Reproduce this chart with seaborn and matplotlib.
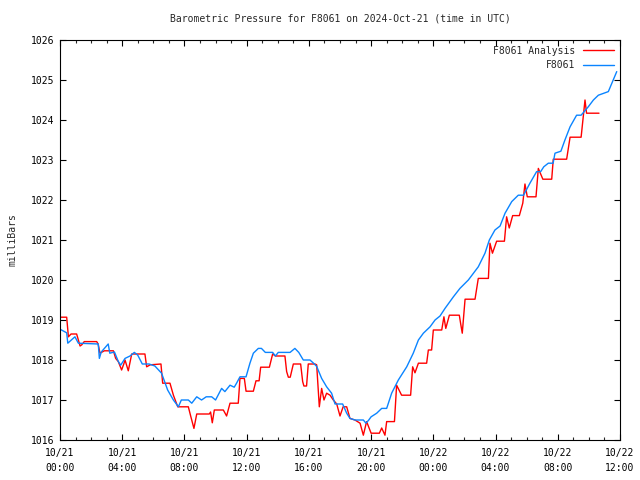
import numpy as np
import pandas as pd
import matplotlib
matplotlib.use("Agg")
import matplotlib.pyplot as plt
import matplotlib.dates as mdates
import seaborn as sns

# hours since 2024-10-21 00:00 UTC
obs_hours = [0, 0.43, 0.5, 0.96, 1.18, 2.46, 2.53, 2.65, 3.1, 3.2, 3.5, 3.75, 3.9, 4.18, 4.5,
             4.78, 5.0, 5.29, 5.72, 6.1, 6.53, 6.92, 7.29, 7.61, 7.8, 8.25, 8.47, 8.79, 9.1,
             9.4, 9.75, 10.0, 10.39, 10.6, 10.93, 11.2, 11.35, 11.57, 11.96, 12.21, 12.43,
             12.75, 12.95, 13.2, 13.67, 13.85, 14.03, 14.79, 15.1, 15.35, 15.64, 16.07, 16.3,
             16.5, 16.82, 17.14, 17.46, 17.68, 18.17, 18.43, 18.64, 18.96, 19.5, 19.67, 19.85,
             20.0, 20.36, 20.68, 21.0, 21.32, 21.75, 22.29, 22.71, 23.04, 23.36, 23.79, 24.11,
             24.43, 24.75, 25.29, 25.71, 26.25, 26.89, 27.32, 27.6, 27.96, 28.29, 28.61, 29.04,
             29.46, 29.8, 30.21, 30.64, 30.9, 31.1, 31.39, 31.7, 31.82, 32.2, 32.46, 32.79,
             33.21, 33.5, 33.96, 34.29, 34.61, 35.25, 35.79]
obs_mb = [1018.77, 1018.68, 1018.42, 1018.58, 1018.42, 1018.40, 1018.04, 1018.2, 1018.4, 1018.17,
          1018.2, 1017.96, 1017.87, 1018.04, 1018.1, 1018.19, 1018.12, 1017.9, 1017.9, 1017.85,
          1017.67, 1017.25, 1017.0, 1016.83, 1017.0, 1017.0, 1016.92, 1017.08, 1017.0, 1017.08,
          1017.08, 1017.0, 1017.29, 1017.21, 1017.37, 1017.32, 1017.42, 1017.58, 1017.58, 1017.92,
          1018.17, 1018.29, 1018.29, 1018.19, 1018.19, 1018.1, 1018.19, 1018.19, 1018.29, 1018.19,
          1018.0, 1018.0, 1017.92, 1017.84, 1017.54, 1017.33, 1017.17, 1016.9, 1016.9, 1016.67,
          1016.54, 1016.5, 1016.5, 1016.42, 1016.5, 1016.58, 1016.67, 1016.79, 1016.79, 1017.17,
          1017.5, 1017.83, 1018.17, 1018.5, 1018.67, 1018.83, 1019.0, 1019.1, 1019.29, 1019.58,
          1019.79, 1020.0, 1020.33, 1020.67, 1021.0, 1021.25, 1021.35, 1021.67, 1021.96, 1022.12,
          1022.12, 1022.42, 1022.71, 1022.71, 1022.83, 1022.92, 1022.92, 1023.17, 1023.22, 1023.5,
          1023.83, 1024.12, 1024.12, 1024.33, 1024.5, 1024.62, 1024.71, 1025.21]

ana_hours = [0, 0.43, 0.54, 0.71, 1.07, 1.29, 1.4, 1.56, 2.36, 2.45, 2.57, 2.85, 3.43, 3.58, 3.75,
             3.96, 4.1, 4.18, 4.39, 4.61, 5.46, 5.57, 5.8, 6.49, 6.6, 7.07, 7.29, 7.57, 8.25, 8.4,
             8.61, 8.79, 9.6, 9.68, 9.79, 9.92, 10.5, 10.71, 10.93, 11.46, 11.57, 11.85, 11.96,
             12.43, 12.6, 12.8, 12.9, 13.46, 13.67, 13.85, 14.46, 14.57, 14.68, 14.8, 15.0, 15.47,
             15.6, 15.68, 15.85, 15.96, 16.39, 16.5, 16.67, 16.82, 16.97, 17.14, 17.36, 17.57,
             17.79, 18.0, 18.2, 18.43, 18.64, 18.96, 19.29, 19.5, 19.71, 20.0, 20.53, 20.68, 20.89,
             21.0, 21.5, 21.64, 21.96, 22.54, 22.67, 22.82, 23.04, 23.57, 23.68, 23.89, 24.0,
             24.54, 24.68, 24.8, 25.03, 25.67, 25.76, 25.86, 26.04, 26.68, 26.89, 27.54, 27.64,
             27.8, 28.07, 28.57, 28.71, 28.88, 29.1, 29.53, 29.75, 29.89, 30.04, 30.6, 30.75,
             31.04, 31.61, 31.71, 32.57, 32.79, 33.5, 33.75, 33.85, 34.65]
ana_mb = [1019.07, 1019.07, 1018.58, 1018.65, 1018.65, 1018.35, 1018.38, 1018.46, 1018.46, 1018.4,
          1018.17, 1018.23, 1018.23, 1018.04, 1017.96, 1017.75, 1017.9, 1018.0, 1017.73, 1018.15,
          1018.15, 1017.83, 1017.88, 1017.9, 1017.42, 1017.42, 1017.12, 1016.83, 1016.83, 1016.6,
          1016.29, 1016.65, 1016.65, 1016.7, 1016.43, 1016.75, 1016.75, 1016.6, 1016.92, 1016.92,
          1017.54, 1017.54, 1017.22, 1017.22, 1017.48, 1017.48, 1017.82, 1017.82, 1018.15, 1018.1,
          1018.1, 1017.71, 1017.57, 1017.57, 1017.9, 1017.9, 1017.46, 1017.35, 1017.35, 1017.9,
          1017.9, 1017.88, 1016.83, 1017.29, 1017.0, 1017.17, 1017.12, 1017.0, 1016.9, 1016.6,
          1016.83, 1016.83, 1016.54, 1016.5, 1016.42, 1016.12, 1016.46, 1016.17, 1016.17, 1016.3,
          1016.12, 1016.46, 1016.46, 1017.37, 1017.12, 1017.12, 1017.83, 1017.68, 1017.92, 1017.92,
          1018.25, 1018.25, 1018.75, 1018.75, 1019.08, 1018.79, 1019.12, 1019.12, 1018.9, 1018.67,
          1019.52, 1019.52, 1020.04, 1020.04, 1020.92, 1020.67, 1020.97, 1020.97, 1021.58, 1021.3,
          1021.61, 1021.61, 1021.92, 1022.4, 1022.08, 1022.08, 1022.79, 1022.52, 1022.52, 1023.02,
          1023.02, 1023.57, 1023.57, 1024.5, 1024.17, 1024.17]

start = pd.Timestamp("2024-10-21 00:00")
obs = pd.DataFrame({"time": start + pd.to_timedelta(obs_hours, unit="h"), "mb": obs_mb})
ana = pd.DataFrame({"time": start + pd.to_timedelta(ana_hours, unit="h"), "mb": ana_mb})

sns.set_theme(style="ticks")
plt.rcParams["font.family"] = ["DejaVu Sans Mono"]
fs = 7

fig = plt.figure(figsize=(6.4, 4.8), dpi=100)
ax = fig.add_axes([60 / 640, 40 / 480, 560 / 640, 400 / 480])

sns.lineplot(data=ana, x="time", y="mb", ax=ax, color="#ff0000", lw=1.0,
             label="F8061 Analysis", sort=False)
sns.lineplot(data=obs, x="time", y="mb", ax=ax, color="#0a84ff", lw=1.0,
             label="F8061", sort=False)

ax.set_xlim(start, start + pd.Timedelta(hours=36))
ax.set_ylim(1016, 1026)
ax.set_yticks(np.arange(1016, 1027, 1))
ax.xaxis.set_major_locator(mdates.HourLocator(byhour=range(0, 24, 4)))
ax.xaxis.set_minor_locator(mdates.HourLocator())
ax.xaxis.set_major_formatter(mdates.DateFormatter("%m/%d\n%H:%M"))

ax.tick_params(which="major", direction="in", top=True, right=True, length=4.5,
               width=0.8, labelsize=fs, colors="black", pad=4)
ax.tick_params(axis="x", which="major", pad=6)
ax.tick_params(which="minor", direction="in", top=True, right=False, length=2.2, width=0.8)
ax.tick_params(axis="y", which="minor", left=False, right=False)
for lbl in ax.get_xticklabels():
    lbl.set_linespacing(1.6)
for s in ax.spines.values():
    s.set_color("black")
    s.set_linewidth(0.8)

ax.set_xlabel("")
ax.set_ylabel("milliBars", fontsize=fs, labelpad=10)
ax.set_title("Barometric Pressure for F8061 on 2024-Oct-21 (time in UTC)", fontsize=fs, pad=13)

ax.legend(loc="upper right", frameon=False, markerfirst=False, fontsize=fs,
          handlelength=3.2, handletextpad=0.8, borderaxespad=0.2, labelspacing=0.45)

fig.savefig("out.png", dpi=100)
